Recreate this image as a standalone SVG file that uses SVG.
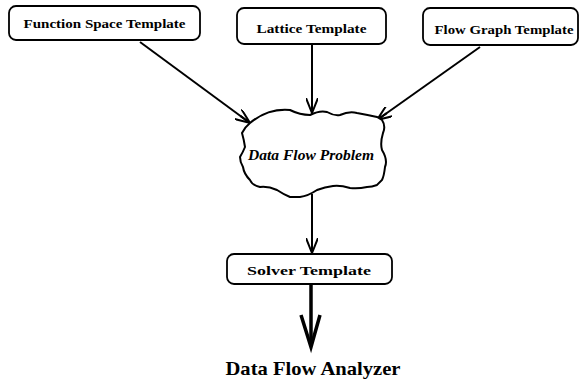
<svg xmlns="http://www.w3.org/2000/svg" width="583" height="382" viewBox="0 0 583 382">
<style>
.box{fill:#fff;stroke:#000;stroke-width:1.8}
.lbl{font-family:"Liberation Serif","Times New Roman",serif;font-size:13px;font-weight:bold;fill:#000}
.ln{fill:none;stroke:#000;stroke-width:2}
</style>
<defs>
<marker id="ah" viewBox="0 0 16 12" refX="15" refY="6" markerWidth="16" markerHeight="12" markerUnits="userSpaceOnUse" orient="auto">
<path d="M0,0 L15,6 L0,12 M15,6 L3,6" fill="none" stroke="#000" stroke-width="2"/>
</marker>
</defs>
<rect width="583" height="382" fill="#fff"/>
<g id="connectors">
<line class="ln" x1="140" y1="42" x2="250" y2="123" marker-end="url(#ah)"/>
<line class="ln" x1="312" y1="45" x2="312" y2="113" marker-end="url(#ah)"/>
<line class="ln" x1="480" y1="47" x2="377" y2="120" marker-end="url(#ah)"/>
<line class="ln" x1="312" y1="194" x2="312" y2="253" marker-end="url(#ah)"/>
<line x1="311" y1="284" x2="311" y2="344" stroke="#000" stroke-width="3.5"/>
<path d="M301,315 L311,347 L320,315" fill="none" stroke="#000" stroke-width="3.5" stroke-linejoin="miter"/>
</g>
<g id="n1"><rect class="box" x="9" y="6" width="191" height="34" rx="7"/><text class="lbl" x="104.5" y="28" text-anchor="middle" textLength="162" lengthAdjust="spacingAndGlyphs">Function Space Template</text></g>
<g id="n2"><rect class="box" x="237" y="8" width="149" height="36" rx="7"/><text class="lbl" x="311.5" y="33" text-anchor="middle" textLength="110" lengthAdjust="spacingAndGlyphs">Lattice Template</text></g>
<g id="n3"><rect class="box" x="423" y="8" width="155" height="37" rx="7"/><text class="lbl" x="504" y="34" text-anchor="middle" textLength="139" lengthAdjust="spacingAndGlyphs">Flow Graph Template</text></g>
<g id="n4"><path d="M250,123 Q268,108 290,110 Q300,115 310,115 Q320,110 327,112 Q334,116 340,115 Q349,111 357,113 Q368,115 377,117 L382,120 Q386,126 383,133 Q380,143 382,150 Q388,160 385,167 Q384,176 382,180 L377,185 Q372,187 367,187 Q358,189 350,188 Q340,185 333,186 Q325,187 317,190 Q308,196 300,197 L290,197 Q283,194 277,190 Q268,186 260,187 Q252,185 250,180 Q244,174 243,167 Q240,162 240,157 Q243,152 245,147 Q244,140 242,133 Q245,127 250,123 Z" fill="#fff" stroke="#000" stroke-width="2"/><text x="311" y="160" text-anchor="middle" font-family="'Liberation Serif','Times New Roman',serif" font-size="14" font-style="italic" font-weight="bold" textLength="126" lengthAdjust="spacingAndGlyphs">Data Flow Problem</text></g>
<g id="n5"><rect class="box" x="227" y="254" width="165" height="30" rx="7"/><text class="lbl" x="309" y="275" text-anchor="middle" textLength="124" lengthAdjust="spacingAndGlyphs">Solver Template</text></g>
<g id="n6"><text x="313" y="375" text-anchor="middle" font-family="'Liberation Serif','Times New Roman',serif" font-size="19" font-weight="bold" textLength="175" lengthAdjust="spacingAndGlyphs">Data Flow Analyzer</text></g>
</svg>
